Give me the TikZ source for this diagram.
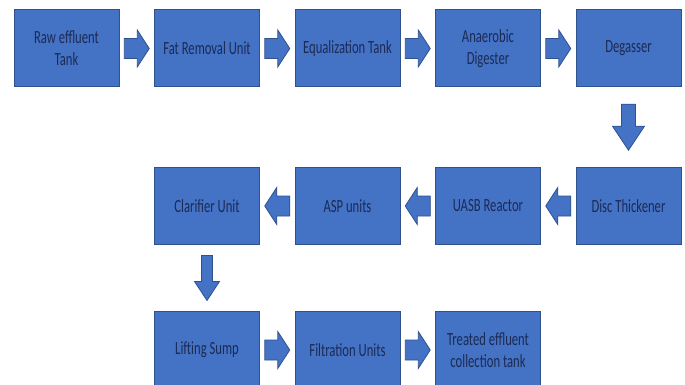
\documentclass[tikz,border=0pt]{standalone}
\usepackage{fontspec}
\setmainfont{Carlito}[FakeStretch=0.68]
\usetikzlibrary{calc}

\definecolor{boxblue}{HTML}{4472C4}
\definecolor{boxline}{HTML}{2F528F}
\definecolor{boxtext}{HTML}{1C2B55}

\begin{document}
\begin{tikzpicture}[
    x=1pt, y=1pt,
    unit/.style={
        draw=boxline,
        fill=boxblue,
        line width=1pt,
        align=center,
        text=boxtext,
        font=\fontsize{18.6pt}{22pt}\selectfont,
        minimum width=105pt,
        minimum height=77pt,
        inner sep=2pt
    },
    % block arrow: length, shaft width, head width, head length
    flow/.style n args={4}{
        draw=boxline,
        fill=boxblue,
        line width=0.8pt,
        to path={
            ($(\tikztostart)!0.5!(\tikztotarget)$) coordinate (m)
            ($(m)!#1/2!(\tikztostart)$) coordinate (s)
            ($(m)!#1/2!(\tikztotarget)$) coordinate (t)
            ($(t)!#4!(s)$) coordinate (h)
            ($(s)!#2/2!90:(t)$) -- ($(h)!#2/2!-90:(s)$) -- ($(h)!#3/2!-90:(s)$) -- (t)
            -- ($(h)!#3/2!90:(s)$) -- ($(h)!#2/2!90:(s)$) -- ($(s)!#2/2!-90:(t)$) -- cycle
        }
    },
    hflow/.style={flow={25pt}{20pt}{37pt}{12pt}}
]

\path[use as bounding box, fill=white] (0,0) rectangle (685,-385);

\node[unit] (raw) at (66.5, -48.5) {Raw effluent\\Tank};
\node[unit] (fat) at (207, -48.5) {Fat Removal Unit};
\node[unit] (equal) at (347.5, -48.5) {Equalization Tank};
\node[unit] (digester) at (488, -48.5) {Anaerobic\\Digester};
\node[unit] (degasser) at (628.5, -48.5) {Degasser};

\node[unit] (thickener) at (628.5, -206) {Disc Thickener};
\node[unit] (uasb) at (488, -206) {UASB Reactor};
\node[unit] (asp) at (347.5, -206) {ASP units};
\node[unit] (clarifier) at (207, -206) {Clarifier Unit};

\node[unit] (sump) at (207, -350) {Lifting Sump};
\node[unit] (filtration) at (347.5, -350) {Filtration Units};
\node[unit] (treated) at (488, -350) {Treated effluent\\collection tank};

\draw[hflow] (raw.east) to (fat.west);
\draw[hflow] (fat.east) to (equal.west);
\draw[hflow] (equal.east) to (digester.west);
\draw[hflow] (digester.east) to (degasser.west);
\draw[flow={46pt}{14pt}{32pt}{24pt}] (degasser.south) to (thickener.north);
\draw[hflow] (thickener.west) to (uasb.east);
\draw[hflow] (uasb.west) to (asp.east);
\draw[hflow] (asp.west) to (clarifier.east);
\draw[flow={45pt}{11pt}{25pt}{19pt}] (clarifier.south) to (sump.north);
\draw[hflow] (sump.east) to (filtration.west);
\draw[hflow] (filtration.east) to (treated.west);

\end{tikzpicture}
\end{document}
